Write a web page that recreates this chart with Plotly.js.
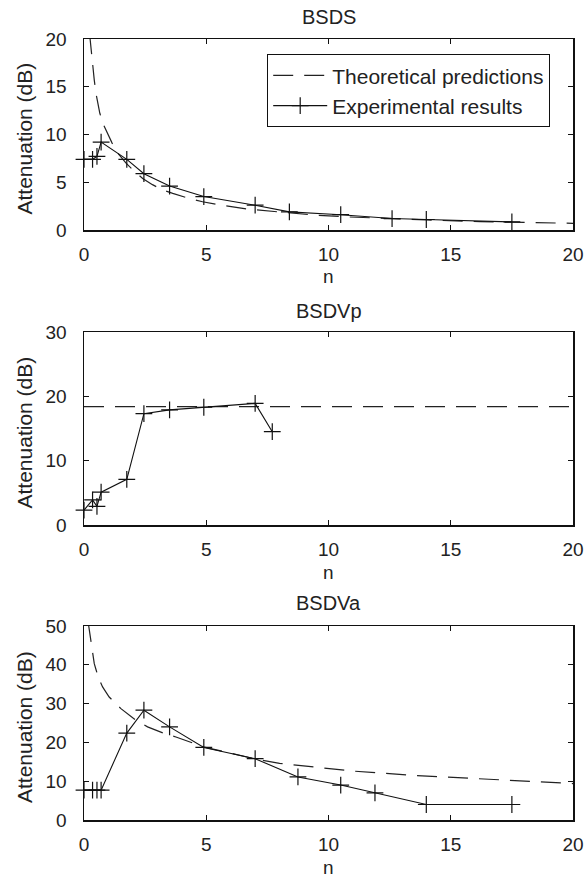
<!DOCTYPE html>
<html>
<head>
<meta charset="utf-8">
<script src="https://cdn.plot.ly/plotly-3.0.1.min.js"></script>
<style>html,body{margin:0;padding:0;background:#fff;}#chart{width:586px;height:877px;}</style>
</head>
<body>
<div id="chart"></div>
<script>
// ---- data ----
var panelTitles = ["BSDS", "BSDVp", "BSDVa"];
var legendNames = ["Theoretical predictions", "Experimental results"];
var xTicks = [0, 5, 10, 15, 20];

// BSDS
var bsdsTheoN = [0.23, 0.3, 0.42, 0.49, 0.65, 0.8, 0.97, 1.15, 1.4, 1.72, 2.0, 2.4, 2.8, 3.22, 3.63, 4.3, 4.85, 5.5, 6.65, 8.5, 9.38, 10.7, 12.1, 14, 16.2, 18, 20];
var bsdsTheoA = [20.5, 18.5, 15.7, 14.3, 12.2, 11.0, 10.1, 9.1, 8.0, 7.0, 6.3, 5.4, 4.75, 4.19, 3.83, 3.3, 2.96, 2.65, 2.2, 1.8, 1.57, 1.38, 1.22, 1.05, 0.87, 0.78, 0.7];
var bsdsExpN = [0, 0.35, 0.53, 0.7, 1.75, 2.45, 3.5, 4.9, 7, 8.4, 10.5, 12.6, 14, 17.5];
var bsdsExpA = [7.4, 7.4, 7.7, 9.2, 7.4, 5.9, 4.6, 3.5, 2.6, 1.9, 1.6, 1.2, 1.1, 0.85];

// BSDVp
var bsdvpTheoN = [0, 20];
var bsdvpTheoA = [18.4, 18.4];
var bsdvpExpN = [0, 0.35, 0.53, 0.7, 1.75, 2.45, 3.5, 4.9, 7, 7.7];
var bsdvpExpA = [2.3, 3.9, 2.9, 5.1, 7.1, 17.3, 17.9, 18.3, 18.9, 14.5];

// BSDVa
var bsdvaTheoN = [0.17, 0.28, 0.42, 0.49, 0.6, 0.76, 1.03, 1.51, 2.13, 2.6, 3.29, 3.76, 4.38, 4.92, 6, 7.09, 8, 9.38, 11, 13.47, 15.5, 17.56, 20];
var bsdvaTheoA = [51, 46, 40.3, 38.8, 36.5, 34.3, 31.7, 28.7, 25.7, 24, 22.3, 21.4, 19.9, 18.8, 17.2, 15.6, 14.6, 13.7, 12.6, 11.5, 10.8, 10.1, 9.4];
var bsdvaExpN = [0, 0.35, 0.53, 0.7, 1.75, 2.45, 3.5, 4.9, 7, 8.75, 10.5, 11.9, 14, 17.5];
var bsdvaExpA = [7.7, 7.7, 7.7, 7.7, 22.4, 28.3, 24.0, 18.7, 15.8, 11.1, 9.0, 7.0, 4.0, 4.0];

var yRanges = [[0, 20], [0, 30], [0, 50]];
var yDticks = [5, 10, 10];

// ---- styling / layout ----
var FONT = "Liberation Sans, Arial, sans-serif";
var TXT = "#222";
var dashStyle = "20px,11px";
var W = 586, H = 877, ML = 84, MR = 13;
var PW = W - ML - MR;

function theo(x, y, ax, show) {
  return {x: x, y: y, xaxis: ax[0], yaxis: ax[1], type: "scatter", mode: "lines",
    name: legendNames[0], showlegend: show, legendrank: 1,
    line: {color: "#222", width: 1.2, dash: dashStyle}, hoverinfo: "skip"};
}
function expr(x, y, ax, show) {
  return {x: x, y: y, xaxis: ax[0], yaxis: ax[1], type: "scatter", mode: "lines+markers",
    name: legendNames[1], showlegend: show, legendrank: 2, cliponaxis: false,
    line: {color: "#111", width: 1.1},
    marker: {symbol: "cross-thin-open", size: 12, line: {color: "#111", width: 1.2}}, hoverinfo: "skip"};
}

var data = [
  theo(bsdsTheoN, bsdsTheoA, ["x", "y"], true),
  expr(bsdsExpN, bsdsExpA, ["x", "y"], true),
  theo(bsdvpTheoN, bsdvpTheoA, ["x2", "y2"], false),
  expr(bsdvpExpN, bsdvpExpA, ["x2", "y2"], false),
  theo(bsdvaTheoN, bsdvaTheoA, ["x3", "y3"], false),
  expr(bsdvaExpN, bsdvaExpA, ["x3", "y3"], false)
];

var panels = [[39, 230], [332, 525], [626, 820]]; // pixel top/bottom of plot boxes

function xa(anchor) {
  return {range: [0, 20], tickvals: xTicks, ticktext: xTicks.map(String), anchor: anchor,
    showline: true, linecolor: "#111", linewidth: 1.5, mirror: "allticks",
    ticks: "inside", ticklen: 5, tickwidth: 1, tickcolor: "#111",
    showgrid: false, zeroline: false, ticklabelstandoff: 7,
    tickfont: {family: FONT, size: 19, color: TXT}, fixedrange: true};
}
function ya(i, anchor) {
  var vals = [];
  for (var v = yRanges[i][0]; v <= yRanges[i][1] + 1e-9; v += yDticks[i]) vals.push(v);
  return {range: yRanges[i], tickvals: vals, ticktext: vals.map(String), anchor: anchor,
    domain: [1 - panels[i][1] / H, 1 - panels[i][0] / H],
    showline: true, linecolor: "#111", linewidth: 1.5, mirror: "allticks",
    ticks: "inside", ticklen: 5, tickwidth: 1, tickcolor: "#111",
    showgrid: false, zeroline: false, ticklabelstandoff: 12,
    tickfont: {family: FONT, size: 19, color: TXT}, fixedrange: true};
}

var annotations = [];
var titleY = [17, 311, 603];
var nY = [277, 572, 867];
for (var i = 0; i < 3; i++) {
  annotations.push({text: panelTitles[i], xref: "paper", yref: "paper", x: 0.5, y: 1 - titleY[i] / H,
    xanchor: "center", yanchor: "middle", showarrow: false, font: {family: FONT, size: 20, color: TXT}});
  annotations.push({text: "n", xref: "paper", yref: "paper", x: 0.5, y: 1 - nY[i] / H,
    xanchor: "center", yanchor: "middle", showarrow: false, font: {family: FONT, size: 19, color: TXT}});
  annotations.push({text: "Attenuation (dB)", xref: "paper", yref: "paper",
    x: (24 - ML) / PW, y: 1 - ((panels[i][0] + panels[i][1]) / 2 + 4) / H, textangle: -90,
    xanchor: "center", yanchor: "middle", showarrow: false, font: {family: FONT, size: 21, color: TXT}});
}

var layout = {
  width: W, height: H,
  margin: {l: ML, r: MR, t: 0, b: 0},
  paper_bgcolor: "#fff", plot_bgcolor: "#fff",
  font: {family: FONT, color: TXT},
  xaxis: xa("y"), xaxis2: xa("y2"), xaxis3: xa("y3"),
  yaxis: ya(0, "x"), yaxis2: ya(1, "x2"), yaxis3: ya(2, "x3"),
  showlegend: true,
  legend: {x: (550 - ML) / PW, xanchor: "right", y: 1 - 54 / H, yanchor: "top", xref: "paper", yref: "paper",
    bgcolor: "#fff", bordercolor: "#111", borderwidth: 1.2, itemwidth: 54,
    font: {family: FONT, size: 21, color: TXT}, traceorder: "normal", tracegroupgap: 0},
  annotations: annotations
};

Plotly.newPlot("chart", data, layout, {staticPlot: true, displayModeBar: false});
</script>
</body>
</html>
